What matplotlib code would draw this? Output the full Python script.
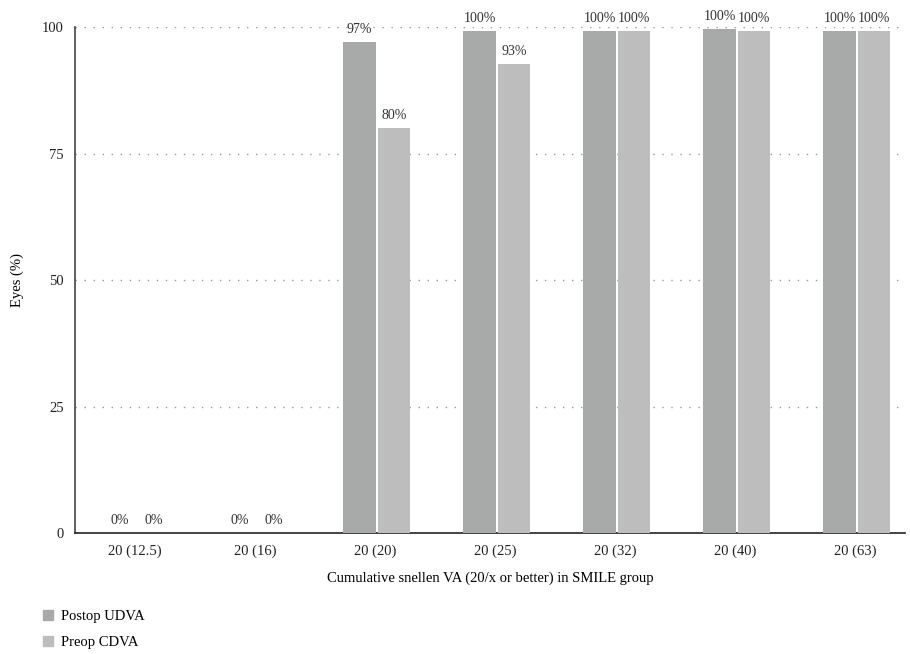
import matplotlib
matplotlib.use("Agg")
import matplotlib.pyplot as plt
import numpy as np
from matplotlib.patches import Patch

categories = ["20 (12.5)", "20 (16)", "20 (20)", "20 (25)", "20 (32)", "20 (40)", "20 (63)"]
postop_udva = [0, 0, 97, 99.2, 99.2, 99.6, 99.2]
preop_cdva = [0, 0, 80, 92.7, 99.2, 99.2, 99.2]
postop_labels = ["0%", "0%", "97%", "100%", "100%", "100%", "100%"]
preop_labels = ["0%", "0%", "80%", "93%", "100%", "100%", "100%"]
yticks = [0, 25, 50, 75, 100]

plt.rcParams["font.family"] = ["Liberation Serif", "DejaVu Serif"]

fig = plt.figure(figsize=(9.1, 6.54), dpi=100)
ax = fig.add_axes([0.0824, 0.185, 0.9126, 0.7737])

x = np.arange(len(categories))
w = 0.272
gap = 0.008
c_post = "#a8aaa9"
c_pre = "#bdbdbd"

b1 = ax.bar(x - w / 2 - gap + 0.015, postop_udva, w, color=c_post, zorder=3)
b2 = ax.bar(x + w / 2 + gap + 0.015, preop_cdva, w, color=c_pre, zorder=3)

for bars, labels in ((b1, postop_labels), (b2, preop_labels)):
    for rect, lab in zip(bars, labels):
        ax.text(rect.get_x() + rect.get_width() / 2, rect.get_height() + 1.2, lab,
                ha="center", va="bottom", fontsize=10, color="#333333", zorder=4)

ax.set_xlim(-0.5, 6.42)
ax.set_ylim(0, 100)
ax.set_yticks(yticks)
ax.set_xticks(x)
ax.set_xticklabels(categories)
ax.tick_params(axis="both", length=0, labelsize=10.5, colors="#222222")
ax.tick_params(axis="x", pad=8)
ax.tick_params(axis="y", pad=8)

for yv in yticks[1:]:
    ax.axhline(yv, color="#999999", linewidth=1.0, linestyle=(0, (1, 5.5)), zorder=1)

for side in ("top", "right"):
    ax.spines[side].set_visible(False)
ax.spines["left"].set_color("#444444")
ax.spines["bottom"].set_color("#222222")
ax.spines["left"].set_linewidth(1.2)
ax.spines["bottom"].set_linewidth(1.2)

ax.set_ylabel("Eyes (%)", fontsize=10.5, labelpad=13)
ax.set_xlabel("Cumulative snellen VA (20/x or better) in SMILE group", fontsize=10.5, labelpad=10)

handles = [Patch(color=c_post, label="Postop UDVA"), Patch(color=c_pre, label="Preop CDVA")]
fig.legend(handles=handles, loc="upper left", bbox_to_anchor=(0.033, 0.088),
           frameon=False, fontsize=10.5, handlelength=0.7, handleheight=0.7,
           handletextpad=0.5, labelspacing=0.9)

fig.savefig("out.png", dpi=100)
